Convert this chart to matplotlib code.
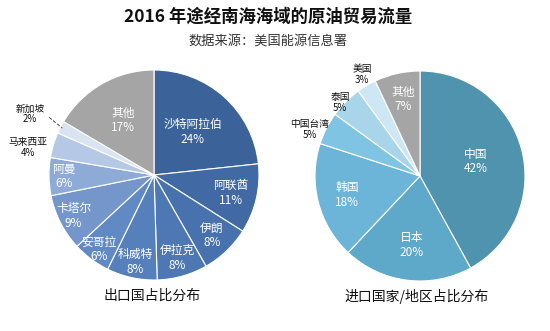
import numpy as np
import matplotlib
matplotlib.use("Agg")
import matplotlib.pyplot as plt

plt.rcParams['font.family'] = ['Noto Sans CJK SC', 'DejaVu Sans']

# export side
exp_names = ['沙特阿拉伯', '阿联酋', '伊朗', '伊拉克', '科威特', '安哥拉',
             '卡塔尔', '阿曼', '马来西亚', '新加坡', '其他']
exp_vals = [24, 11, 8, 8, 8, 6, 9, 6, 4, 2, 17]
exp_colors = ['#3c6399', '#4169a4', '#4772ad', '#4d78b3', '#5680bb', '#6189c3',
              '#7596cb', '#8eaad6', '#b5c8e6', '#dae3f1', '#a5a5a5']
exp_outside = ['马来西亚', '新加坡']

# import side
imp_names = ['中国', '日本', '韩国', '中国台湾', '泰国', '美国', '其他']
imp_vals = [42, 20, 18, 5, 5, 3, 7]
imp_colors = ['#4f93ae', '#5ea8c9', '#6db5d8', '#80c4e3', '#a9d5ea',
              '#cde7f4', '#a5a5a5']
imp_outside = ['中国台湾', '泰国', '美国']

W, H = 550, 331
fig = plt.figure(figsize=(W / 100, H / 100), dpi=100)


def px_axes(cx, cy, r):
    return fig.add_axes([(cx - r) / W, (H - cy - r) / H, 2 * r / W, 2 * r / H])


def draw_pie(ax, names, vals, colors, outside, in_r, out_pos):
    wedges, _ = ax.pie(vals, colors=colors, startangle=90, counterclock=False,
                       wedgeprops=dict(edgecolor='white', linewidth=0.8))
    for w, name, v in zip(wedges, names, vals):
        ang = np.deg2rad((w.theta1 + w.theta2) / 2)
        txt = f'{name}\n{v}%'
        if name in outside:
            x, y = out_pos[name]
            ax.text(x, y, txt, ha='center', va='center', fontsize=7,
                    color='#111111', linespacing=1.1)
        else:
            r = in_r.get(name, 0.65)
            ax.text(r * np.cos(ang), r * np.sin(ang), txt, ha='center',
                    va='center', fontsize=8.5, color='white', linespacing=1.15)
    ax.set_xlim(-1, 1)
    ax.set_ylim(-1, 1)
    ax.set_aspect('equal')
    ax.axis('off')
    return wedges


ax1 = px_axes(154, 175, 105)
w1 = draw_pie(ax1, exp_names, exp_vals, exp_colors, exp_outside,
              {'沙特阿拉伯': 0.55, '其他': 0.6, '阿联酋': 0.75, '伊朗': 0.8,
               '伊拉克': 0.82, '科威特': 0.85, '安哥拉': 0.88, '卡塔尔': 0.86,
               '阿曼': 0.86},
              {'马来西亚': (-1.2, 0.26), '新加坡': (-1.18, 0.58)})
# leader line for Singapore
sg = w1[exp_names.index('新加坡')]
a = np.deg2rad((sg.theta1 + sg.theta2) / 2)
ax1.plot([-1.0, 0.98 * np.cos(a)], [0.55, 0.98 * np.sin(a)], ls='--',
         color='#555555', lw=0.7, clip_on=False)

ax2 = px_axes(420, 176, 105)
draw_pie(ax2, imp_names, imp_vals, imp_colors, imp_outside,
         {'中国': 0.55, '日本': 0.66, '韩国': 0.72, '其他': 0.75},
         {'中国台湾': (-1.05, 0.44), '泰国': (-0.76, 0.70),
          '美国': (-0.55, 0.97)})

fig.text(268 / W, 1 - 17 / H, '2016 年途经南海海域的原油贸易流量',
         ha='center', va='center', fontsize=12.5, fontweight='bold',
         color='#111111')
fig.text(268 / W, 1 - 41 / H, '数据来源：美国能源信息署', ha='center',
         va='center', fontsize=9.5, color='#333333')
fig.text(152 / W, 1 - 296 / H, '出口国占比分布', ha='center', va='center',
         fontsize=10, color='#111111')
fig.text(417 / W, 1 - 296 / H, '进口国家/地区占比分布', ha='center',
         va='center', fontsize=10, color='#111111')

fig.savefig('out.png', dpi=100)
